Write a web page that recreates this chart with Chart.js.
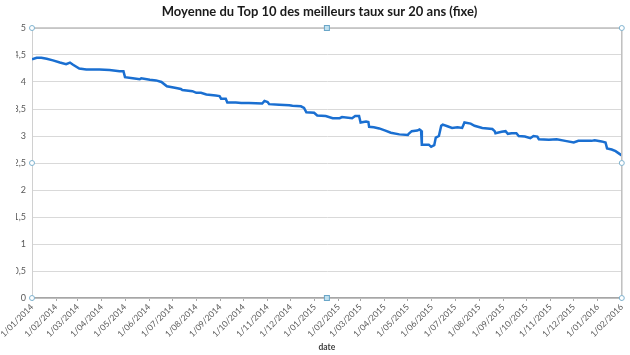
<!DOCTYPE html>
<html><head><meta charset="utf-8">
<script src="https://cdn.jsdelivr.net/npm/chart.js@4.4.1/dist/chart.umd.min.js"></script>
<style>html,body{margin:0;padding:0;background:#fff}#wrap{width:630px;height:355px;position:relative}</style>
</head><body><div id="wrap"><canvas id="c" width="630" height="355"></canvas></div>
<script>
const chartTitle = 'Moyenne du Top 10 des meilleurs taux sur 20 ans (fixe)';
const xTitle = 'date';
const dates = [
'2014-01-01','2014-01-07','2014-01-13','2014-01-20','2014-01-28','2014-02-06','2014-02-14','2014-02-19','2014-02-23','2014-03-03',
'2014-03-12','2014-03-29','2014-04-11','2014-04-24','2014-04-29','2014-05-01','2014-05-11','2014-05-20','2014-05-22','2014-06-02',
'2014-06-10','2014-06-17','2014-06-24','2014-07-06','2014-07-12','2014-07-14','2014-07-27','2014-08-01','2014-08-07','2014-08-14',
'2014-08-26','2014-08-31','2014-09-02','2014-09-08','2014-09-10','2014-09-21','2014-09-28','2014-10-08','2014-10-25','2014-10-28',
'2014-11-01','2014-11-03','2014-11-16','2014-11-29','2014-12-03','2014-12-14','2014-12-18','2014-12-21','2014-12-31','2015-01-04',
'2015-01-15','2015-01-24','2015-02-02','2015-02-05','2015-02-18','2015-02-22','2015-02-27','2015-03-01','2015-03-08','2015-03-11',
'2015-03-12','2015-03-18','2015-03-25','2015-04-02','2015-04-09','2015-04-20','2015-05-01','2015-05-02','2015-05-06','2015-05-13',
'2015-05-16','2015-05-18','2015-05-19','2015-05-28','2015-05-31','2015-06-04','2015-06-06','2015-06-10','2015-06-13','2015-06-15',
'2015-06-21','2015-06-27','2015-07-04','2015-07-10','2015-07-13','2015-07-21','2015-07-26','2015-08-05','2015-08-18','2015-08-21',
'2015-08-22','2015-08-30','2015-09-04','2015-09-07','2015-09-12','2015-09-18','2015-09-21','2015-09-29','2015-10-06','2015-10-10',
'2015-10-15','2015-10-17','2015-10-30','2015-11-09','2015-11-20','2015-12-01','2015-12-07','2015-12-24','2015-12-28','2016-01-06',
'2016-01-11','2016-01-13','2016-01-19','2016-01-24','2016-01-30','2016-02-01'
];
const rates = [
4.42,4.45,4.45,4.43,4.40,4.36,4.33,4.36,4.32,4.25,
4.23,4.23,4.22,4.20,4.20,4.09,4.07,4.05,4.07,4.04,
4.03,4.00,3.92,3.89,3.87,3.85,3.83,3.80,3.80,3.77,
3.75,3.74,3.69,3.69,3.62,3.62,3.61,3.61,3.60,3.65,
3.63,3.59,3.58,3.57,3.56,3.55,3.52,3.44,3.43,3.38,
3.37,3.33,3.33,3.35,3.33,3.37,3.37,3.25,3.27,3.26,
3.17,3.16,3.14,3.10,3.06,3.03,3.02,3.04,3.09,3.10,
3.12,3.10,2.84,2.84,2.80,2.83,2.97,3.00,3.19,3.21,
3.18,3.15,3.16,3.15,3.25,3.23,3.19,3.15,3.13,3.09,
3.05,3.08,3.09,3.04,3.05,3.05,3.00,2.99,2.96,3.00,
2.99,2.94,2.93,2.94,2.91,2.88,2.91,2.91,2.92,2.90,
2.88,2.77,2.75,2.72,2.66,2.64
];
const tickDates = [
'2014-01-01','2014-02-01','2014-03-01','2014-04-01','2014-05-01','2014-06-01','2014-07-01','2014-08-01','2014-09-01',
'2014-10-01','2014-11-01','2014-12-01','2015-01-01','2015-02-01','2015-03-01','2015-04-01','2015-05-01','2015-06-01',
'2015-07-01','2015-08-01','2015-09-01','2015-10-01','2015-11-01','2015-12-01','2016-01-01','2016-02-01'
];
const tickLabels = [
'1/01/2014','1/02/2014','1/03/2014','1/04/2014','1/05/2014','1/06/2014','1/07/2014','1/08/2014','1/09/2014',
'1/10/2014','1/11/2014','1/12/2014','1/01/2015','1/02/2015','1/03/2015','1/04/2015','1/05/2015','1/06/2015',
'1/07/2015','1/08/2015','1/09/2015','1/10/2015','1/11/2015','1/12/2015','1/01/2016','1/02/2016'
];
const yMin = 0, yMax = 5, yStep = 0.5;

function dayIndex(s){
  const [y,m,d] = s.split('-').map(Number);
  return (Date.UTC(y,m-1,d) - Date.UTC(2014,0,1)) / 86400000;
}
const tickDays = tickDates.map(dayIndex);
const points = dates.map((d,i)=>({x: dayIndex(d), y: rates[i]}));

const frame = {
  id: 'frame',
  afterDraw(chart){
    const {ctx, chartArea:a} = chart;
    ctx.save();
    ctx.strokeStyle = '#bfbfbf'; ctx.lineWidth = 1.5;
    ctx.beginPath();
    ctx.moveTo(a.left, a.top); ctx.lineTo(a.right, a.top); ctx.lineTo(a.right, a.bottom);
    ctx.stroke();
    const midY = (a.top+a.bottom)/2, midX = (a.left+a.right)/2;
    ctx.lineWidth = 1;
    [[a.left,a.top],[a.left,midY],[a.left,a.bottom],[a.right,a.top],[a.right,midY],[a.right,a.bottom]].forEach(([x,y])=>{
      ctx.beginPath(); ctx.arc(x,y,2.5,0,Math.PI*2);
      ctx.fillStyle='#ffffff'; ctx.fill();
      ctx.strokeStyle='#7fb3cf'; ctx.stroke();
    });
    [[midX,a.top],[midX,a.bottom]].forEach(([x,y])=>{
      ctx.fillStyle='#bfe0ef'; ctx.fillRect(x-2.5,y-2.5,5,5);
      ctx.strokeStyle='#6aa6c8'; ctx.strokeRect(x-2.5,y-2.5,5,5);
    });
    ctx.restore();
  }
};

new Chart(document.getElementById('c'), {
  type: 'line',
  data: { datasets: [{
    data: points,
    borderColor: '#1a6fd1',
    borderWidth: 2.5,
    pointRadius: 0,
    tension: 0,
    fill: false
  }]},
  plugins: [frame],
  options: {
    responsive: false,
    animation: false,
    devicePixelRatio: 1,
    layout: { padding: { top: 0, right: 7, left: 16, bottom: 0 } },
    plugins: {
      legend: { display: false },
      tooltip: { enabled: false },
      title: {
        display: true, text: chartTitle,
        font: { family: 'Lato', weight: 'bold', size: 13 },
        color: '#1a1a1a',
        padding: { top: 4, bottom: 8.4 }
      }
    },
    scales: {
      x: {
        type: 'linear',
        min: tickDays[0], max: tickDays[tickDays.length-1],
        afterBuildTicks: s => { s.ticks = tickDays.map(v=>({value:v})); },
        afterFit: s => { s.height = 57; },
        ticks: {
          autoSkip: false, maxRotation: 45, minRotation: 45,
          font: { family: 'Lato', size: 8.5 }, color: '#595959', padding: 1,
          callback: (v, i) => tickLabels[i]
        },
        grid: { drawOnChartArea: false, drawTicks: true, tickLength: 3, color: '#a6a6a6' },
        border: { color: '#a6a6a6', width: 1.5 },
        title: { display: true, text: xTitle, font: { family: 'Lato', weight: 'bold', size: 8.5 }, color: '#404040', padding: { top: 0, bottom: 3 } }
      },
      y: {
        min: yMin, max: yMax,
        afterFit: s => { s.width = 16; },
        ticks: {
          stepSize: yStep,
          font: { family: 'Lato', size: 9 }, color: '#595959', padding: 6,
          callback: v => String(v).replace('.', ',')
        },
        grid: { color: '#d9d9d9', drawTicks: false },
        border: { color: '#d0d0d0' }
      }
    }
  }
});
</script>
</body></html>
